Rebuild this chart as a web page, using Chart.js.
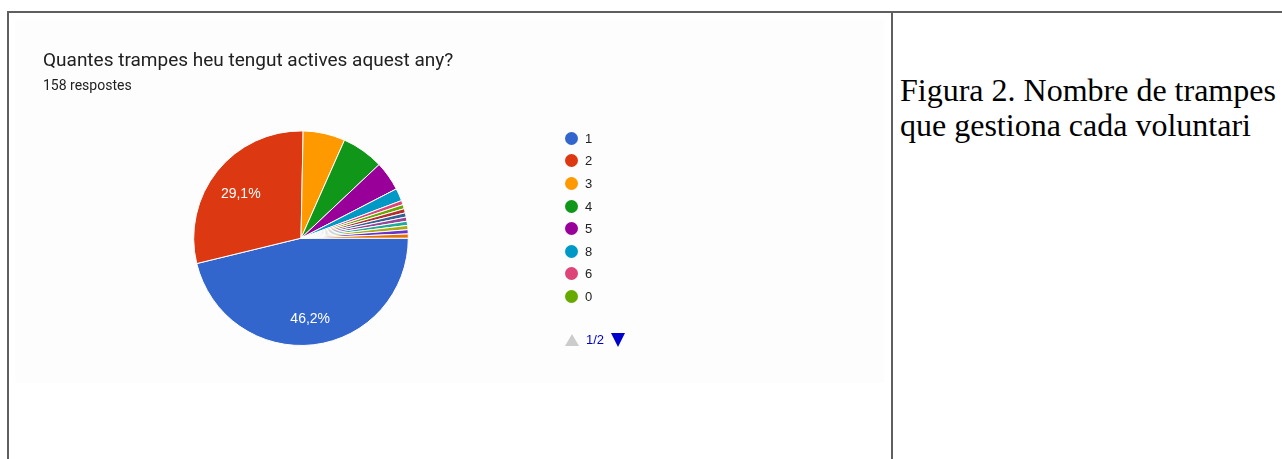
<!DOCTYPE html>
<html>
<head>
<meta charset="utf-8">
<script src="https://cdn.jsdelivr.net/npm/chart.js@4.4.1/dist/chart.umd.min.js"></script>
<style>
    body { margin: 0; background: #fff; width: 1282px; height: 459px; overflow: hidden; position: relative; }
    .cell-line { position: absolute; background: #5f5f5f; }
    #chartBg { position: absolute; left: 15px; top: 20px; width: 869px; height: 363px; background: #fdfdfd; }
    #pieChart { position: absolute; left: 43px; top: 40px; }
    #legend { position: absolute; left: 565px; top: 127px; font: 13px "Liberation Sans", Arial, sans-serif; color: #222; }
    .legend-row { height: 22.6px; display: flex; align-items: center; }
    .legend-dot { width: 13px; height: 13px; border-radius: 50%; margin-right: 7px; }
    #pager { position: absolute; left: 565px; top: 332px; font: 13px "Liberation Sans", Arial, sans-serif; color: #0000cc; display: flex; align-items: center; }
    .tri-up { width: 0; height: 0; border-left: 7px solid transparent; border-right: 7px solid transparent; border-bottom: 12px solid #cccccc; margin-right: 7px; }
    .tri-down { width: 0; height: 0; border-left: 7px solid transparent; border-right: 7px solid transparent; border-top: 14px solid #0000cc; margin-left: 7px; }
    #caption { position: absolute; left: 900px; top: 73px; font: 32px "Liberation Serif", "Times New Roman", serif; color: #000; line-height: 35px; }
</style>
</head>
<body>
<div class="cell-line" style="left:7px; top:11px; width:1275px; height:2px;"></div>
<div class="cell-line" style="left:7px; top:11px; width:2px; height:448px;"></div>
<div class="cell-line" style="left:891px; top:11px; width:2px; height:448px;"></div>
<div id="chartBg"></div>
<canvas id="pieChart" width="540" height="306"></canvas>
<div id="legend"></div>
<div id="pager"><div class="tri-up"></div><span>1/2</span><div class="tri-down"></div></div>
<div id="caption">Figura 2. Nombre de trampes<br>que gestiona cada voluntari</div>

<script>
// respostes per nombre de trampes (158 en total)
const trapLabels = ['1', '2', '3', '4', '5', '8', '6', '0', '10', '7', '12', '15', '20', '9', '30'];
const trapCounts = [73, 46, 10, 10, 7, 3, 1, 1, 1, 1, 1, 1, 1, 1, 1];
const sliceColors = [
    '#3366cc', '#dc3912', '#ff9900', '#109618', '#990099', '#0099c6', '#dd4477', '#66aa00',
    '#b82e2e', '#316395', '#994499', '#22aa99', '#aaaa11', '#6633cc', '#e67300'
];
const legendPageSize = 8;

// percentages written inside the big slices, google style (comma decimal)
const sliceLabelPlugin = {
    id: 'sliceLabels',
    afterDatasetsDraw(chart) {
        const ctx = chart.ctx;
        const meta = chart.getDatasetMeta(0);
        const data = chart.data.datasets[0].data;
        const total = data.reduce((a, b) => a + b, 0);
        ctx.save();
        ctx.fillStyle = '#ffffff';
        ctx.font = '14px "Liberation Sans", Arial, sans-serif';
        ctx.textAlign = 'center';
        ctx.textBaseline = 'middle';
        meta.data.forEach((arc, i) => {
            const share = data[i] / total;
            if (share < 0.1) return;
            const mid = (arc.startAngle + arc.endAngle) / 2;
            const r = arc.outerRadius * 0.72;
            const txt = (share * 100).toFixed(1).replace('.', ',') + '%';
            ctx.fillText(txt, arc.x + Math.cos(mid) * r, arc.y + Math.sin(mid) * r + 4);
        });
        ctx.restore();
    }
};

const chart = new Chart(document.getElementById('pieChart'), {
    type: 'pie',
    data: {
        labels: trapLabels,
        datasets: [{
            data: trapCounts,
            backgroundColor: sliceColors,
            borderColor: '#ffffff',
            borderWidth: 1
        }]
    },
    options: {
        responsive: false,
        animation: false,
        rotation: 90,
        layout: { padding: { left: 0, right: 24, top: 0, bottom: 0 } },
        plugins: {
            legend: { display: false },
            tooltip: { enabled: false },
            title: {
                display: true,
                text: 'Quantes trampes heu tengut actives aquest any?',
                align: 'start',
                color: '#212121',
                font: { family: 'Roboto', size: 19, weight: 'normal' },
                padding: { top: 9.6, bottom: 5.2 }
            },
            subtitle: {
                display: true,
                text: '158 respostes',
                align: 'start',
                color: '#212121',
                font: { family: 'Roboto', size: 14, weight: 'normal' },
                padding: { top: 0, bottom: 36 }
            }
        }
    },
    plugins: [sliceLabelPlugin]
});

// first page of the legend, built from the chart's own labels
const legendEl = document.getElementById('legend');
chart.data.labels.slice(0, legendPageSize).forEach((label, i) => {
    const row = document.createElement('div');
    row.className = 'legend-row';
    row.innerHTML = `<div class="legend-dot" style="background:${sliceColors[i]}"></div><span>${label}</span>`;
    legendEl.appendChild(row);
});
</script>
</body>
</html>
